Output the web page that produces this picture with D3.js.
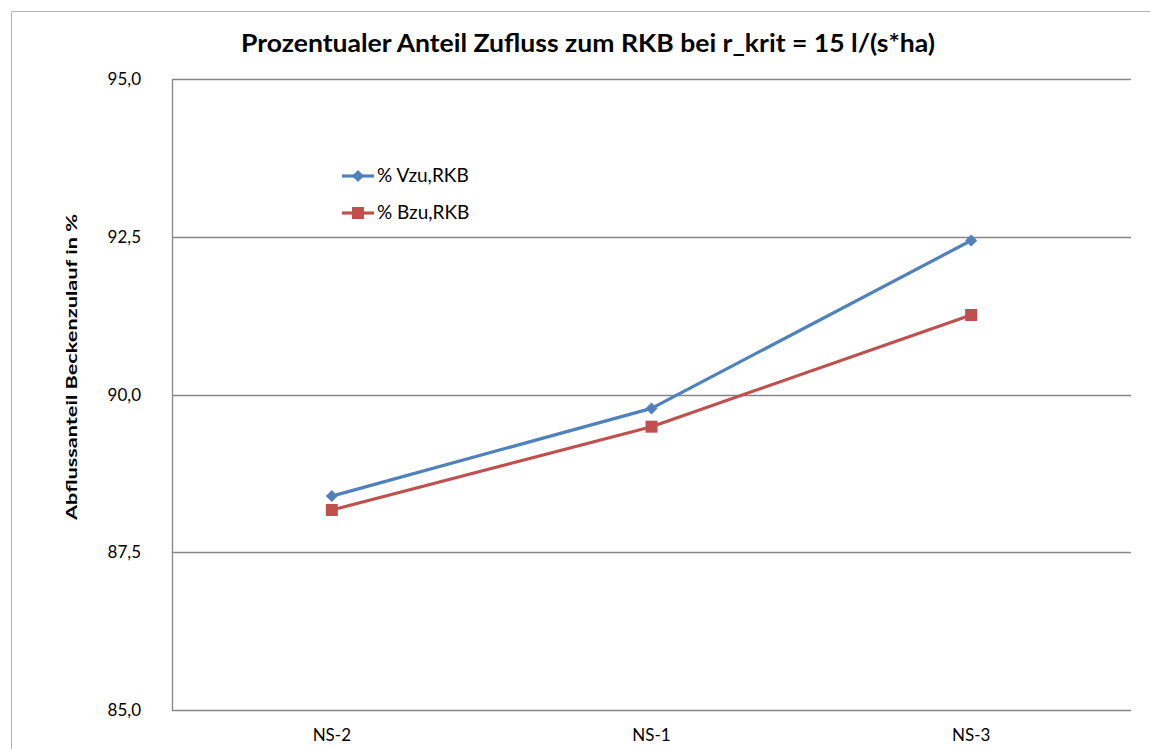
<!DOCTYPE html>
<html>
<head>
<meta charset="utf-8">
<script src="https://cdn.jsdelivr.net/npm/d3@7"></script>
<style>
  body { margin: 0; background: #fff; }
  svg { display: block; font-family: Lato, "Open Sans", sans-serif; }
</style>
</head>
<body>
<svg id="chart" width="1150" height="749"></svg>
<script>
// Daten
const kategorien = ["NS-2", "NS-1", "NS-3"];
const vzuRKB = [88.39, 89.78, 92.44];
const bzuRKB = [88.17, 89.49, 91.26];
const yTicks = [85, 87.5, 90, 92.5, 95];
const serien = [
  { name: "% Vzu,RKB", werte: vzuRKB, farbe: "#4F81BD", marker: "diamond" },
  { name: "% Bzu,RKB", werte: bzuRKB, farbe: "#C0504D", marker: "square" }
];

const svg = d3.select("#chart");
const rand = { left: 172, top: 79, right: 1131, bottom: 710 };

// äußerer Rahmen (rechts und unten außerhalb des Bildes)
svg.append("path")
  .attr("d", "M11.5,749 L11.5,11.5 L1150,11.5")
  .attr("fill", "none")
  .attr("stroke", "#b4b4b4")
  .attr("stroke-width", 1);

const x = d3.scaleBand().domain(kategorien).range([rand.left, rand.right]);
const y = d3.scaleLinear().domain([85, 95]).range([rand.bottom, rand.top]);

// Gitterlinien
svg.append("g")
  .selectAll("line")
  .data(yTicks)
  .enter().append("line")
  .attr("x1", rand.left).attr("x2", rand.right)
  .attr("y1", d => Math.round(y(d)) + 0.5).attr("y2", d => Math.round(y(d)) + 0.5)
  .attr("stroke", "#868686").attr("stroke-width", 1.3);

// y-Achse
svg.append("line")
  .attr("x1", rand.left + 0.5).attr("x2", rand.left + 0.5)
  .attr("y1", rand.top).attr("y2", rand.bottom + 1)
  .attr("stroke", "#868686").attr("stroke-width", 1.3);

const fmt = d => d.toFixed(1).replace(".", ",");
svg.append("g")
  .selectAll("text")
  .data(yTicks)
  .enter().append("text")
  .attr("x", 141)
  .attr("y", d => y(d) + 6)
  .attr("text-anchor", "end")
  .attr("font-size", 17)
  .attr("fill", "#000")
  .text(fmt);

// x-Beschriftung
svg.append("g")
  .selectAll("text")
  .data(kategorien)
  .enter().append("text")
  .attr("x", d => x(d) + x.bandwidth() / 2)
  .attr("y", 741)
  .attr("text-anchor", "middle")
  .attr("font-size", 17)
  .attr("fill", "#000")
  .text(d => d);

// Titel
svg.append("text")
  .attr("x", 588)
  .attr("y", 52)
  .attr("text-anchor", "middle")
  .attr("font-size", 25)
  .attr("font-weight", "bold")
  .attr("textLength", 694)
  .attr("lengthAdjust", "spacingAndGlyphs")
  .text("Prozentualer Anteil Zufluss zum RKB bei r_krit = 15 l/(s*ha)");

// Achsentitel
svg.append("text")
  .attr("transform", "translate(77,367) rotate(-90)")
  .attr("text-anchor", "middle")
  .attr("font-size", 15)
  .attr("font-weight", "bold")
  .attr("textLength", 306)
  .attr("lengthAdjust", "spacingAndGlyphs")
  .text("Abflussanteil Beckenzulauf  in %");

const linie = d3.line()
  .x((d, i) => x(kategorien[i]) + x.bandwidth() / 2)
  .y(d => y(d));

function markerZeichnen(g, typ, farbe) {
  if (typ === "diamond") {
    g.append("path").attr("d", "M0,-6 L6,0 L0,6 L-6,0 Z").attr("fill", farbe);
  } else {
    g.append("rect").attr("x", -6).attr("y", -6).attr("width", 12).attr("height", 12).attr("fill", farbe);
  }
}

serien.forEach(s => {
  svg.append("path")
    .datum(s.werte)
    .attr("d", linie)
    .attr("fill", "none")
    .attr("stroke", s.farbe)
    .attr("stroke-width", 3.2)
    .attr("stroke-linejoin", "round");

  s.werte.forEach((v, i) => {
    const g = svg.append("g")
      .attr("transform", `translate(${x(kategorien[i]) + x.bandwidth() / 2},${y(v)})`);
    markerZeichnen(g, s.marker, s.farbe);
  });
});

// Legende
serien.forEach((s, i) => {
  const ly = 176 + i * 37;
  svg.append("line")
    .attr("x1", 342).attr("x2", 374)
    .attr("y1", ly).attr("y2", ly)
    .attr("stroke", s.farbe).attr("stroke-width", 3.2);
  const g = svg.append("g").attr("transform", `translate(358,${ly})`);
  markerZeichnen(g, s.marker, s.farbe);
  svg.append("text")
    .attr("x", 377)
    .attr("y", ly + 6)
    .attr("font-size", 19)
    .attr("fill", "#000")
    .text(s.name);
});
</script>
</body>
</html>
